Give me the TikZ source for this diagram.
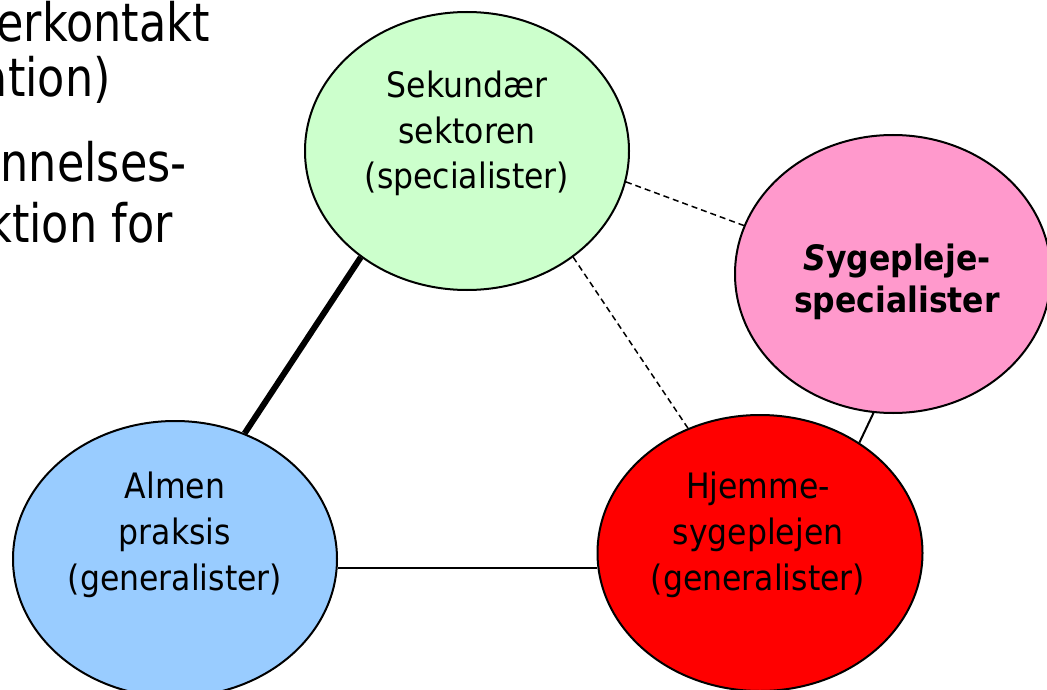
\documentclass[tikz,border=0pt]{standalone}
\usepackage{fontspec}
\setmainfont{DejaVu Sans}
\newfontfamily\lblfont[FakeStretch=0.9]{DejaVu Sans}
\newfontfamily\sidefont[FakeStretch=0.84]{DejaVu Sans}
\usetikzlibrary{shapes.geometric,backgrounds}
\definecolor{cgreen}{HTML}{CCFFCC}
\definecolor{cpink}{HTML}{FF99CC}
\definecolor{cblue}{HTML}{99CCFF}
\definecolor{cred}{HTML}{FF0000}
\begin{document}
\begin{tikzpicture}[x=1pt,y=-1pt,
  bubble/.style={ellipse,draw=black,line width=2pt,inner sep=0pt},
  lbl/.style={font=\lblfont\fontsize{35}{46}\selectfont,align=center,anchor=base,inner sep=0pt},
  boldlbl/.style={font=\lblfont\bfseries\fontsize{35}{42}\selectfont,align=center,anchor=base,inner sep=0pt},
  side/.style={font=\sidefont\fontsize{53}{60}\selectfont,anchor=base east,inner sep=0pt},
  link/.style={line width=2pt},
  strong/.style={line width=6pt},
  dashlink/.style={line width=1.5pt,dash pattern=on 6pt off 4pt}]
\useasboundingbox (0,0) rectangle (1047,690);
\clip (0,0) rectangle (1047,690);
\node[side] (t1) at (210,42) {erkontakt};
\node[side] (t2) at (111,97) {ation)};
\node[side] (t3) at (187,182) {nnelses-};
\node[side] (t4) at (173,242) {ktion for};
\node[bubble,fill=cgreen,minimum width=324pt,minimum height=278pt] (sek) at (467,151) {};
\node[bubble,fill=cpink,minimum width=316pt,minimum height=278pt] (syg) at (893,274) {};
\node[bubble,fill=cblue,minimum width=324pt,minimum height=276pt] (alm) at (175,559) {};
\node[bubble,fill=cred,minimum width=325pt,minimum height=276pt] (hje) at (760,553) {};
\node[lbl] (sektxt) at (467,189) {Sekundær\\sektoren\\(specialister)};
\node[boldlbl] (sygtxt) at (897,312) {\textit{S}ygepleje-\\specialister};
\node[lbl] (almtxt) at (175,590) {Almen\\praksis\\(generalister)};
\node[lbl] (hjetxt) at (758,590) {Hjemme-\\sygeplejen\\(generalister)};
\begin{scope}[on background layer]
\draw[strong] (sek.225) -- (alm.61);
\draw[dashlink] (sek.-11) -- (syg.162);
\draw[dashlink] (sek.-45) -- (hje.120);
\draw[link] (syg.262) -- (hje.48);
\draw[link] (alm.-3) -- (alm.-3 -| hje.west);
\end{scope}
\end{tikzpicture}
\end{document}
